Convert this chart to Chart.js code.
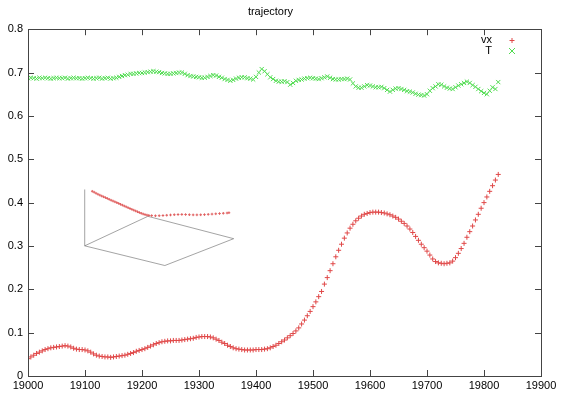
<!DOCTYPE html>
<html>
<head>
<meta charset="utf-8">
<script src="https://cdn.jsdelivr.net/npm/chart.js@4.4.1/dist/chart.umd.min.js"></script>
<style>
    body { margin: 0; background: #fff; }
    #wrap { position: relative; width: 561px; height: 393px; }
    #inset { position: absolute; left: 75px; top: 180px; }
</style>
</head>
<body>
<div id="wrap">
    <canvas id="myChart" width="561" height="393"></canvas>
    <canvas id="inset" width="175" height="95"></canvas>
</div>
<script>
// time steps
const steps = [
    19000,19005,19010,19015,19020,19025,19030,19035,19040,19045,
    19050,19055,19060,19065,19070,19075,19080,19085,19090,19095,
    19100,19105,19110,19115,19120,19125,19130,19135,19140,19145,
    19150,19155,19160,19165,19170,19175,19180,19185,19190,19195,
    19200,19205,19210,19215,19220,19225,19230,19235,19240,19245,
    19250,19255,19260,19265,19270,19275,19280,19285,19290,19295,
    19300,19305,19310,19315,19320,19325,19330,19335,19340,19345,
    19350,19355,19360,19365,19370,19375,19380,19385,19390,19395,
    19400,19405,19410,19415,19420,19425,19430,19435,19440,19445,
    19450,19455,19460,19465,19470,19475,19480,19485,19490,19495,
    19500,19505,19510,19515,19520,19525,19530,19535,19540,19545,
    19550,19555,19560,19565,19570,19575,19580,19585,19590,19595,
    19600,19605,19610,19615,19620,19625,19630,19635,19640,19645,
    19650,19655,19660,19665,19670,19675,19680,19685,19690,19695,
    19700,19705,19710,19715,19720,19725,19730,19735,19740,19745,
    19750,19755,19760,19765,19770,19775,19780,19785,19790,19795,
    19800,19805,19810,19815,19820,19825
];

const vx = [
    .040,.044,.048,.052,.055,.058,.061,.063,.065,.066,
    .067,.068,.069,.070,.069,.067,.064,.062,.061,.061,
    .060,.058,.055,.051,.048,.046,.045,.044,.044,.043,
    .044,.045,.046,.047,.048,.050,.052,.054,.057,.059,
    .061,.063,.066,.069,.072,.075,.077,.079,.080,.081,
    .081,.082,.082,.082,.083,.084,.085,.086,.087,.089,
    .090,.091,.091,.091,.090,.088,.085,.082,.078,.075,
    .071,.068,.065,.063,.062,.061,.060,.060,.060,.060,
    .061,.061,.061,.062,.063,.065,.068,.071,.075,.079,
    .083,.088,.093,.098,.104,.111,.120,.129,.139,.149,
    .160,.171,.183,.195,.212,.227,.243,.259,.275,.290,
    .304,.318,.330,.341,.350,.358,.364,.369,.373,.375,
    .377,.378,.378,.378,.377,.376,.374,.372,.369,.366,
    .362,.357,.352,.346,.339,.331,.322,.313,.304,.296,
    .288,.279,.270,.264,.261,.260,.259,.260,.261,.265,
    .273,.283,.294,.306,.320,.333,.346,.360,.373,.387,
    .400,.413,.426,.439,.452,.465
];

const T = [
    .687,.688,.687,.686,.688,.687,.688,.687,.686,.687,
    .688,.687,.687,.688,.686,.687,.688,.687,.687,.686,
    .687,.688,.687,.686,.687,.688,.686,.687,.688,.686,
    .687,.688,.690,.692,.694,.695,.697,.697,.698,.699,
    .699,.700,.701,.702,.703,.702,.701,.699,.698,.697,
    .697,.698,.699,.700,.700,.697,.694,.692,.691,.690,
    .689,.688,.688,.690,.692,.694,.693,.690,.688,.685,
    .683,.681,.683,.686,.688,.689,.689,.687,.686,.684,
    .690,.700,.708,.703,.696,.689,.685,.681,.679,.679,
    .680,.678,.672,.676,.681,.683,.684,.686,.687,.688,
    .687,.686,.685,.687,.689,.691,.688,.685,.684,.684,
    .685,.685,.686,.684,.675,.668,.665,.665,.668,.671,
    .670,.668,.666,.666,.667,.664,.660,.656,.660,.663,
    .664,.662,.660,.657,.656,.654,.651,.649,.648,.647,
    .650,.658,.664,.668,.673,.672,.668,.665,.663,.662,
    .666,.670,.673,.676,.679,.676,.671,.667,.662,.657,
    .653,.650,.658,.666,.662,.678
];

const xTicks = [19000,19100,19200,19300,19400,19500,19600,19700,19800,19900];
const yTicks = [0,0.1,0.2,0.3,0.4,0.5,0.6,0.7,0.8];

// inset: projected 3d curve and its box (inset canvas units)
const insetCurveX = [13,15,17,19,21,23,25,27,29,31,33,35,37,39,41,43,45,47,49,51,53,55,57,59,61,63,65,67,69,71,73,
    76,80,84,88,92,96,100,104,108,112,116,120,124,128,132,136,140,144,148,152,156,158];
const insetCurveY = [7,8,9.2,10.3,11.3,12.3,13.2,14.1,15,16,17,17.9,18.8,19.7,20.6,21.6,22.5,23.5,24.4,25.4,26.3,27.2,28.1,29,29.9,30.8,31.6,32.4,33.1,33.6,34,
    34.2,34.4,34.3,34.1,33.8,33.5,33.2,33.0,32.9,33.0,33.2,33.4,33.4,33.3,33.1,32.8,32.5,32.2,31.9,31.6,31.3,31.0];
const insetBoxX = [5, 72, 163, 90, 5, 5];
const insetBoxY = [68, 35, 60, 90, 68, 5];

const font = '"Liberation Sans", Arial, sans-serif';
const red = '#e04848';
const green = '#50dc50';

const frame = {
    id: 'frame',
    afterDraw(chart) {
        let ctx = chart.ctx;
        let a = chart.chartArea;
        let x = chart.scales.x;
        let y = chart.scales.y;
        ctx.save();
        ctx.strokeStyle = '#444';
        ctx.lineWidth = 1;
        ctx.strokeRect(Math.round(a.left) + 0.5, Math.round(a.top) + 0.5, Math.round(a.width), Math.round(a.height));
        ctx.beginPath();
        xTicks.forEach(v => {
            let px = Math.round(x.getPixelForValue(v)) + 0.5;
            ctx.moveTo(px, a.bottom); ctx.lineTo(px, a.bottom - 6);
            ctx.moveTo(px, a.top); ctx.lineTo(px, a.top + 6);
        });
        yTicks.forEach(v => {
            let py = Math.round(y.getPixelForValue(v)) + 0.5;
            ctx.moveTo(a.left, py); ctx.lineTo(a.left + 6, py);
            ctx.moveTo(a.right, py); ctx.lineTo(a.right - 6, py);
        });
        ctx.stroke();

        // legend
        ctx.font = '11px ' + font;
        ctx.fillStyle = '#000';
        ctx.textAlign = 'right';
        ctx.textBaseline = 'middle';
        ctx.fillText('vx', 492, 40);
        ctx.fillText('T', 492, 51);
        ctx.beginPath();
        ctx.strokeStyle = red;
        ctx.moveTo(509.5, 40.5); ctx.lineTo(514.5, 40.5);
        ctx.moveTo(512, 38); ctx.lineTo(512, 43);
        ctx.stroke();
        ctx.beginPath();
        ctx.strokeStyle = green;
        ctx.moveTo(509, 48); ctx.lineTo(515, 54);
        ctx.moveTo(515, 48); ctx.lineTo(509, 54);
        ctx.stroke();
        ctx.restore();
    }
};

new Chart(document.getElementById('myChart'), {
    type: 'scatter',
    data: {
        datasets: [{
            label: 'vx',
            data: steps.map((s, i) => ({ x: s, y: vx[i] })),
            pointStyle: 'cross',
            pointRadius: 2.5,
            borderWidth: 1,
            borderColor: red,
            backgroundColor: red
        }, {
            label: 'T',
            data: steps.map((s, i) => ({ x: s, y: T[i] })),
            pointStyle: 'crossRot',
            pointRadius: 3,
            borderWidth: 1,
            borderColor: green,
            backgroundColor: green
        }]
    },
    options: {
        responsive: false,
        animation: false,
        layout: { padding: { left: 0, right: 20, top: 0, bottom: 0 } },
        plugins: {
            legend: { display: false },
            tooltip: { enabled: false },
            title: {
                display: true,
                text: 'trajectory',
                color: '#000',
                font: { family: font, size: 11, weight: 'normal' },
                padding: { top: 5, bottom: 11 }
            }
        },
        scales: {
            x: {
                type: 'linear',
                min: 19000,
                max: 19900,
                afterBuildTicks: s => { s.ticks = xTicks.map(v => ({ value: v })); },
                afterFit: s => { s.height = 17; },
                grid: { display: false, drawTicks: false },
                border: { display: false },
                ticks: {
                    color: '#000', padding: 3, maxRotation: 0,
                    font: { family: font, size: 11 },
                    callback: v => String(v)
                }
            },
            y: {
                min: 0,
                max: 0.8,
                afterBuildTicks: s => { s.ticks = yTicks.map(v => ({ value: v })); },
                afterFit: s => { s.width = 28; },
                grid: { display: false, drawTicks: false },
                border: { display: false },
                ticks: {
                    color: '#000', padding: 5,
                    font: { family: font, size: 11 },
                    callback: v => String(v)
                }
            }
        }
    },
    plugins: [frame]
});

// small 3d inset
new Chart(document.getElementById('inset'), {
    type: 'scatter',
    data: {
        datasets: [{
            data: insetCurveX.map((v, i) => ({ x: v, y: insetCurveY[i] })),
            pointStyle: 'cross',
            pointRadius: 1.3,
            borderWidth: 1,
            borderColor: '#e06060'
        }, {
            data: insetBoxX.map((v, i) => ({ x: v, y: insetBoxY[i] })),
            showLine: true,
            pointRadius: 0,
            borderWidth: 0.6,
            borderColor: '#666'
        }]
    },
    options: {
        responsive: false,
        animation: false,
        layout: { padding: 0 },
        plugins: { legend: { display: false }, tooltip: { enabled: false } },
        scales: {
            x: { display: false, min: 0, max: 175 },
            y: { display: false, min: 0, max: 95, reverse: true }
        }
    }
});
</script>
</body>
</html>
